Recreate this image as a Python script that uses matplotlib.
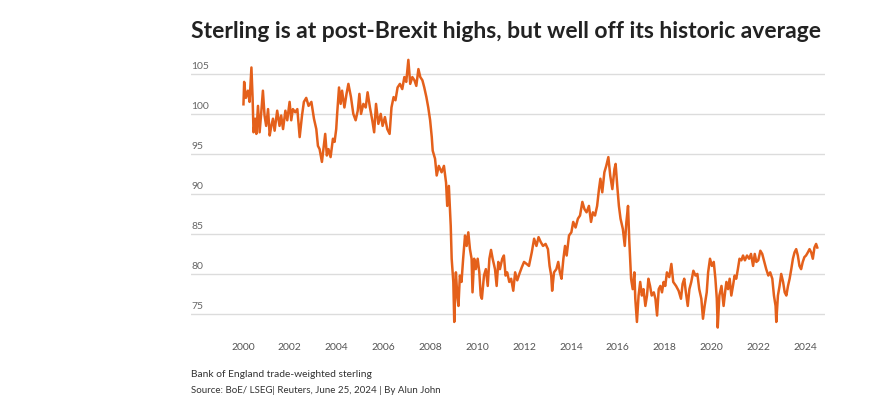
import matplotlib
matplotlib.use("Agg")
import matplotlib.pyplot as plt
import numpy as np

# Bank of England trade-weighted sterling (decimal years)
years = [
    2000.02, 2000.05, 2000.12, 2000.21, 2000.28, 2000.36, 2000.41, 2000.45, 2000.52, 2000.57,
    2000.64, 2000.71, 2000.78, 2000.85, 2000.92, 2000.99, 2001.07, 2001.14, 2001.21, 2001.28,
    2001.35, 2001.46, 2001.56, 2001.63, 2001.71, 2001.81, 2001.89, 2001.99, 2002.06, 2002.13,
    2002.23, 2002.32, 2002.42, 2002.52, 2002.60, 2002.70, 2002.80, 2002.92, 2003.03, 2003.13,
    2003.20, 2003.27, 2003.37, 2003.45, 2003.51, 2003.58, 2003.65, 2003.74, 2003.84, 2003.91,
    2003.98, 2004.02, 2004.10, 2004.17, 2004.23, 2004.33, 2004.42, 2004.50, 2004.61, 2004.71,
    2004.81, 2004.90, 2004.97, 2005.04, 2005.14, 2005.24, 2005.32, 2005.42, 2005.52, 2005.60,
    2005.68, 2005.78, 2005.88, 2005.96, 2006.06, 2006.16, 2006.26, 2006.34, 2006.43, 2006.51,
    2006.60, 2006.70, 2006.80, 2006.89, 2006.97, 2007.06, 2007.14, 2007.23, 2007.32, 2007.40,
    2007.49, 2007.57, 2007.66, 2007.74, 2007.83, 2007.91, 2007.99, 2008.06, 2008.10, 2008.20,
    2008.27, 2008.36, 2008.48, 2008.58, 2008.67, 2008.72, 2008.79, 2008.87, 2008.91, 2008.98,
    2009.02, 2009.09, 2009.15, 2009.20, 2009.26, 2009.33, 2009.40, 2009.48, 2009.55, 2009.62,
    2009.69, 2009.76, 2009.80, 2009.87, 2009.94, 2010.02, 2010.09, 2010.15, 2010.20, 2010.29,
    2010.37, 2010.45, 2010.52, 2010.59, 2010.66, 2010.76, 2010.83, 2010.90, 2010.97, 2011.07,
    2011.14, 2011.21, 2011.28, 2011.37, 2011.45, 2011.54, 2011.62, 2011.71, 2011.80, 2011.90,
    2012.00, 2012.11, 2012.21, 2012.33, 2012.43, 2012.53, 2012.62, 2012.71, 2012.81, 2012.92,
    2013.02, 2013.09, 2013.16, 2013.20, 2013.28, 2013.38, 2013.46, 2013.53, 2013.60, 2013.68,
    2013.75, 2013.82, 2013.92, 2014.02, 2014.10, 2014.20, 2014.30, 2014.39, 2014.49, 2014.58,
    2014.67, 2014.77, 2014.86, 2014.94, 2015.03, 2015.12, 2015.20, 2015.26, 2015.34, 2015.43,
    2015.51, 2015.60, 2015.68, 2015.77, 2015.86, 2015.91, 2015.98, 2016.05, 2016.12, 2016.22,
    2016.30, 2016.37, 2016.44, 2016.49, 2016.57, 2016.64, 2016.71, 2016.75, 2016.82, 2016.89,
    2016.96, 2017.03, 2017.10, 2017.18, 2017.25, 2017.31, 2017.38, 2017.45, 2017.54, 2017.61,
    2017.68, 2017.75, 2017.82, 2017.89, 2017.96, 2018.03, 2018.10, 2018.20, 2018.29, 2018.37,
    2018.49, 2018.60, 2018.70, 2018.77, 2018.84, 2018.91, 2018.99, 2019.06, 2019.14, 2019.23,
    2019.32, 2019.40, 2019.48, 2019.57, 2019.64, 2019.71, 2019.80, 2019.86, 2019.94, 2020.02,
    2020.10, 2020.17, 2020.23, 2020.27, 2020.34, 2020.43, 2020.52, 2020.60, 2020.64, 2020.71,
    2020.78, 2020.85, 2020.92, 2020.99, 2021.06, 2021.13, 2021.20, 2021.28, 2021.35, 2021.43,
    2021.52, 2021.61, 2021.69, 2021.78, 2021.85, 2021.92, 2022.00, 2022.09, 2022.17, 2022.26,
    2022.34, 2022.43, 2022.51, 2022.60, 2022.67, 2022.74, 2022.77, 2022.84, 2022.91, 2022.98,
    2023.06, 2023.13, 2023.20, 2023.27, 2023.34, 2023.41, 2023.48, 2023.55, 2023.62, 2023.69,
    2023.76, 2023.83, 2023.90, 2023.97, 2024.04, 2024.12, 2024.19, 2024.26, 2024.33, 2024.40,
    2024.47, 2024.52,
]
index = [
    101.2, 104.0, 102.0, 102.9, 101.5, 105.8, 102.0, 97.7, 99.4, 97.5,
    101.0, 97.7, 100.2, 102.9, 99.8, 98.5, 100.6, 97.3, 98.5, 99.4,
    97.9, 100.4, 98.5, 99.8, 98.1, 100.4, 99.2, 101.5, 99.2, 100.6,
    100.2, 100.6, 97.1, 99.8, 101.5, 102.0, 101.0, 101.5, 99.4, 98.1,
    96.0, 95.6, 94.0, 96.0, 97.5, 94.8, 95.6, 94.6, 96.9, 96.5,
    98.1, 100.0, 103.3, 101.25, 102.9, 100.8, 102.5, 103.75, 102.1, 100.0,
    99.2, 100.4, 102.5, 100.0, 101.25, 100.8, 102.7, 100.8, 99.2, 97.7,
    101.25, 98.75, 100.0, 98.5, 99.6, 98.1, 97.5, 100.8, 102.1, 101.7,
    103.3, 103.75, 103.1, 104.6, 104.0, 106.75, 103.75, 104.6, 104.2, 103.5,
    105.6, 104.6, 104.2, 103.3, 102.1, 100.8, 99.2, 97.1, 95.4, 94.4,
    92.3, 93.5, 92.7, 93.5, 91.4, 88.5, 91.0, 86.0, 81.9, 79.0,
    74.0, 80.2, 77.3, 76.0, 79.8, 79.0, 81.9, 84.8, 83.5, 85.2,
    83.1, 81.9, 77.7, 81.9, 80.6, 81.9, 80.2, 77.3, 76.9, 79.8,
    80.6, 78.5, 81.9, 83.0, 81.9, 80.6, 78.5, 81.5, 80.6, 81.9,
    82.3, 79.8, 80.2, 79.0, 79.4, 77.9, 80.2, 79.2, 80.0, 80.8,
    81.5, 81.25, 81.0, 82.7, 84.4, 83.5, 84.6, 84.0, 83.5, 83.75,
    83.1, 81.0, 79.8, 77.9, 80.2, 80.6, 81.5, 80.2, 79.4, 81.9,
    83.5, 82.3, 84.8, 85.2, 86.5, 85.8, 86.9, 87.3, 89.0, 88.1,
    87.7, 88.5, 86.5, 87.7, 87.3, 88.5, 90.6, 91.9, 90.2, 92.7,
    93.5, 94.6, 92.3, 90.6, 93.1, 93.75, 91.0, 88.5, 86.9, 85.6,
    83.5, 86.5, 88.5, 84.4, 79.4, 78.1, 80.2, 76.9, 74.0, 77.3,
    79.0, 77.3, 78.1, 76.0, 77.3, 79.4, 78.5, 77.3, 77.7, 76.9,
    74.8, 78.1, 78.5, 77.7, 79.0, 78.5, 80.2, 79.6, 81.25, 79.0,
    78.5, 77.9, 76.9, 78.75, 79.4, 77.7, 76.0, 78.1, 79.0, 80.4,
    79.8, 80.0, 78.1, 76.9, 74.4, 76.0, 77.7, 80.2, 81.9, 81.0,
    81.5, 79.4, 76.9, 73.3, 77.3, 78.5, 76.0, 78.1, 79.0, 78.1,
    79.4, 77.3, 78.5, 79.8, 79.4, 80.6, 81.9, 81.7, 82.3, 81.7,
    82.3, 81.9, 82.5, 81.0, 82.5, 81.5, 81.7, 82.9, 82.5, 81.5,
    80.6, 79.8, 80.2, 79.4, 77.3, 76.0, 74.0, 77.3, 78.5, 80.0,
    79.0, 77.7, 77.3, 78.5, 79.4, 80.6, 81.9, 82.7, 83.1, 82.3,
    81.0, 80.6, 81.5, 82.1, 82.3, 82.7, 83.1, 82.7, 81.9, 83.3,
    83.75, 83.3,
]
y_ticks = [75, 80, 85, 90, 95, 100, 105]
x_ticks = list(range(2000, 2025, 2))

title = "Sterling is at post-Brexit highs, but well off its historic average"
subtitle = "Bank of England trade-weighted sterling"
source = "Source: BoE/ LSEG| Reuters, June 25, 2024 | By Alun John"

plt.rcParams["font.family"] = ["Lato", "DejaVu Sans"]

W, H = 883, 406
fig = plt.figure(figsize=(W / 100, H / 100), dpi=100)
ax = fig.add_axes([191 / W, 0.175, 634 / W, 0.680])

for v in y_ticks:
    ax.axhline(v, color="#dcdcdc", linewidth=1.0, zorder=0)
    ax.text(0.0, v + 0.45, str(v), transform=ax.get_yaxis_transform(),
            ha="left", va="bottom", fontsize=7.5, color="#666666")

ax.plot(years, index, color="#e4601b", linewidth=1.8, solid_joinstyle="round")

ax.set_xlim(1997.78, 2024.85)
ax.set_ylim(72.5, 107)
ax.set_xticks(x_ticks)
ax.set_xticklabels([str(t) for t in x_ticks])
ax.set_yticks([])
ax.tick_params(axis="x", length=0, pad=6, labelsize=7.5, labelcolor="#555555")
for s in ax.spines.values():
    s.set_visible(False)

t_title = fig.text(191 / W, 1 - 32 / H, title, ha="left", va="center",
                   fontsize=15, fontweight="bold", color="#222222")
t_sub = fig.text(191 / W, 1 - 375 / H, subtitle, ha="left", va="center",
                 fontsize=7, color="#333333")
t_src = fig.text(191 / W, 1 - 391 / H, source, ha="left", va="center",
                 fontsize=7, color="#333333")

# stretch the texts to the widths seen in the reference
fig.canvas.draw()
renderer = fig.canvas.get_renderer()
for t, target in [(t_title, 632), (t_sub, 181), (t_src, 252)]:
    w = t.get_window_extent(renderer).width
    t.set_fontsize(t.get_fontsize() * target / w)

fig.savefig("out.png", dpi=100)
